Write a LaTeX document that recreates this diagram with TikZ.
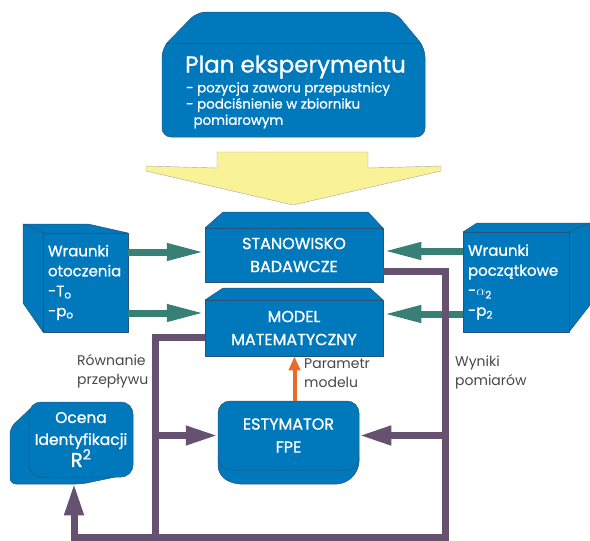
\documentclass[tikz,border=0pt]{standalone}
\usepackage{fontspec}
\setmainfont{Poppins}
\newfontfamily\demi[FakeBold=1.1]{Poppins}
\usetikzlibrary{arrows.meta,calc}
\definecolor{boxblue}{RGB}{0,121,188}
\definecolor{edgeblue}{RGB}{40,84,120}
\definecolor{arrteal}{RGB}{56,128,118}
\definecolor{flowpurple}{RGB}{102,82,112}
\definecolor{paramorange}{RGB}{232,108,40}
\definecolor{planyellow}{RGB}{250,242,150}
\begin{document}
\begin{tikzpicture}[x=1pt,y=-1pt,line join=round,
  face/.style={fill=boxblue,draw=edgeblue,line width=0.5pt},
  boxtext/.style={text=white,font=\demi\fontsize{16}{23}\selectfont,align=center,inner sep=0pt},
  sidetext/.style={text=white,font=\demi\fontsize{15}{20}\selectfont,align=left,inner sep=5pt},
  note/.style={text=black!72,font=\fontsize{14}{19}\selectfont,align=left,inner sep=0pt,anchor=north west},
  tealarr/.style={arrteal,line width=7pt,-{Triangle[length=38pt,width=16pt]}},
  purpline/.style={flowpurple,line width=7pt},
  purparr/.style={flowpurple,line width=7pt,-{Triangle[length=32pt,width=18pt]}},
  orangearr/.style={paramorange,line width=4pt,-{Triangle[length=14pt,width=11pt]}}]
\useasboundingbox (0,0) rectangle (590,541);
% plan eksperymentu
\path[face,rounded corners=9pt] (197,12) -- (395,12) -- (425,48) -- (425,137) -- (162,137) -- (162,48) -- cycle;
\draw[edgeblue,line width=0.5pt] (166,43) -- (421,43);
\node[text=white,font=\demi\fontsize{23}{24}\selectfont,anchor=west,inner sep=0pt] (plan) at (185,67) {Plan eksperymentu};
\node[text=white,font=\demi\fontsize{13.4}{16.2}\selectfont,align=left,anchor=north west,inner sep=0pt] (planlist) at (186,82) {- pozycja zaworu przepustnicy\\- podciśnienie w zbiorniku\\\hspace{0.55em}pomiarowym};
\path[fill=planyellow,draw=black!35,line width=0.4pt] (217,152) -- (368,152) -- (368,168) -- (441,166) -- (441,171) -- (293,205) -- (146,171) -- (146,166) -- (217,168) -- cycle;
% stanowisko i model
\path[face] (205,228) -- (223,212) -- (368,212) -- (383,228) -- cycle;
\node[face,boxtext,minimum width=178pt,minimum height=54pt] (stan) at (294,255) {STANOWISKO\\BADAWCZE};
\path[face] (205,300) -- (223,288) -- (370,288) -- (383,300) -- cycle;
\node[face,boxtext,minimum width=178pt,minimum height=56pt] (model) at (294,328) {MODEL\\MATEMATYCZNY};
% warunki
\path[face] (43,233) -- (23,224) -- (88,224) -- (128,233) -- cycle;
\path[face] (43,233) -- (23,224) -- (23,303) -- (43,332) -- cycle;
\node[face,sidetext,text width=75pt,minimum height=99pt] (otocz) at (85.5,282.5) {Wraunki\\otoczenia\\-T\textsubscript{o}\\-p\textsubscript{o}};
\path[face] (463,232) -- (477,223) -- (590,223) -- (569,232) -- cycle;
\path[face] (569,232) -- (590,223) -- (590,305) -- (569,332) -- cycle;
\node[face,sidetext,text width=96pt,minimum height=100pt] (pocz) at (516,282) {Wraunki\\początkowe\\-$\alpha$\textsubscript{2}\\-p\textsubscript{2}};
% estymator i ocena
\path[face,rounded corners=8pt] (218,450) -- (218,474) -- (232,484) -- (345,484) -- (359,470) -- (359,450) -- cycle;
\node[face,boxtext,rounded corners=12pt,minimum width=141pt,minimum height=69pt] (esty) at (288.5,435.5) {ESTYMATOR\\FPE};
\path[face,rounded corners=6pt] (34,405) -- (10,428) -- (10,484) -- (82,484) -- (120,476) -- (120,460) -- cycle;
\node[face,boxtext,font=\demi\fontsize{15.5}{22}\selectfont,rounded corners=12pt,minimum width=104pt,minimum height=75pt] (ocena) at (81,439.5) {Ocena\\Identyfikacji\\{\fontsize{20}{22}\selectfont R\textsuperscript{2}}};
% przeplywy
\draw[tealarr] ($(otocz.east |- stan.west)+(0,-3)$) -- ($(stan.west)+(0,-3)$);
\draw[tealarr] ($(otocz.east |- model.west)+(0,-15)$) -- ($(model.west)+(0,-15)$);
\draw[tealarr] ($(pocz.west |- stan.west)+(0,-4)$) -- ($(stan.east)+(0,-4)$);
\draw[tealarr] ($(pocz.west |- model.west)+(0,-14)$) -- ($(model.east)+(0,-14)$);
\coordinate (wyn) at (445,537);
\coordinate (rown) at (155,537);
\draw[purparr,line join=miter] ($(stan.east)+(0,16)$) -| (wyn) -| ($(ocena.south)+(-7,6)$);
\draw[purpline,line join=miter] ($(model.west)+(0,9)$) -| (rown);
\draw[purparr] (rown |- esty.west) -- (esty.west);
\draw[purparr] (wyn |- esty.east) -- (esty.east);
\draw[orangearr] ($(esty.north)+(6,0)$) coordinate (par) -- (par |- model.south);
\node[note] (rownlbl) at (77,354) {Równanie\\przepływu};
\node[note] (parlbl) at (304,359) {Parametr\\modelu};
\node[note] (wynlbl) at (455,356) {Wyniki\\pomiarów};
\end{tikzpicture}
\end{document}
